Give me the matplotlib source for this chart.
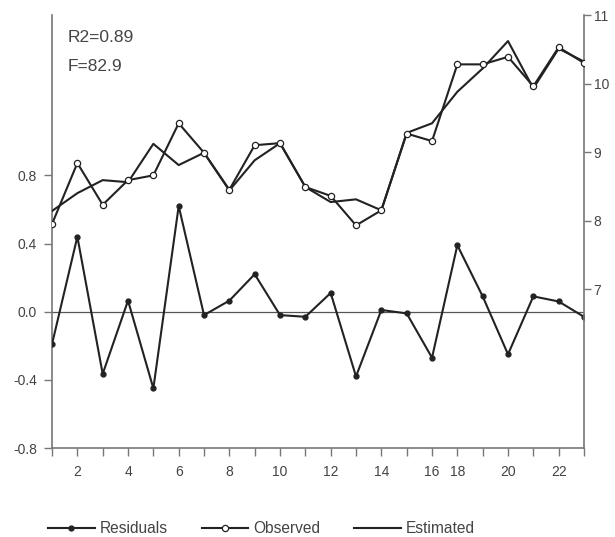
import matplotlib
import matplotlib.pyplot as plt
import numpy as np

matplotlib.use("Agg")

plt.rcParams["font.family"] = ["Liberation Sans", "DejaVu Sans"]

# observation index 17 is missing, so 22 positions carry labels 1..16, 18..23
obs_labels = [1, 2, 3, 4, 5, 6, 7, 8, 9, 10, 11, 12, 13, 14, 15, 16, 18, 19, 20, 21, 22, 23]
shown_labels = [2, 4, 6, 8, 10, 12, 14, 16, 18, 20, 22]

residuals = [-0.19, 0.44, -0.365, 0.065, -0.45, 0.62, -0.02, 0.065, 0.22, -0.02, -0.03,
             0.11, -0.38, 0.01, -0.01, -0.27, 0.39, 0.09, -0.25, 0.09, 0.06, -0.03]
observed = [7.95, 8.84, 8.23, 8.59, 8.66, 9.42, 8.99, 8.45, 9.10, 9.13, 8.49,
            8.36, 7.93, 8.15, 9.27, 9.16, 10.28, 10.28, 10.39, 9.96, 10.53, 10.30]
estimated = [8.14, 8.40, 8.59, 8.56, 9.12, 8.81, 8.99, 8.44, 8.88, 9.13, 8.49,
             8.27, 8.31, 8.15, 9.28, 9.42, 9.88, 10.22, 10.62, 9.93, 10.51, 10.32]

r2_text = "R2=0.89"
f_text = "F=82.9"

INK = "#222222"
AXIS = "#777777"
LABEL = "#444444"

pos = np.arange(1, len(obs_labels) + 1)

fig = plt.figure(figsize=(6.15, 5.37), dpi=100)
ax = fig.add_axes([0.0846, 0.1657, 0.865, 0.8063])
ax2 = ax.twinx()

ax.axhline(0, color="#555555", lw=0.9, zorder=1)
l_res, = ax.plot(pos, residuals, color=INK, lw=1.5, marker="o", ms=3.5,
                 mfc=INK, mec=INK, label="Residuals", zorder=3)
l_obs, = ax2.plot(pos, observed, color=INK, lw=1.5, marker="o", ms=4.5,
                  mfc="white", mec=INK, mew=0.9, label="Observed", zorder=3)
l_est, = ax2.plot(pos, estimated, color=INK, lw=1.5, label="Estimated", zorder=2)

ax.set_xlim(1, len(pos))
ax.set_ylim(-0.8, 1.741)
ax2.set_ylim(4.68, 11.0)

ax.set_yticks([-0.8, -0.4, 0.0, 0.4, 0.8])
ax.set_yticklabels(["-0.8", "-0.4", "0.0", "0.4", "0.8"])
ax2.set_yticks([7, 8, 9, 10, 11])

ax.set_xticks(pos)
ax.set_xticklabels([str(lab) if lab in shown_labels else "" for lab in obs_labels])

for a in (ax, ax2):
    a.spines["top"].set_visible(False)
    for spine in a.spines.values():
        spine.set_color(AXIS)
        spine.set_linewidth(1.2)
ax.spines["right"].set_visible(False)
ax2.spines["left"].set_visible(False)
ax2.spines["bottom"].set_visible(False)

ax.tick_params(axis="both", colors=AXIS, labelcolor=LABEL, labelsize=10,
               length=6, width=1.0, direction="out")
ax.tick_params(axis="y", pad=5)
ax.tick_params(axis="x", pad=6)
ax2.tick_params(axis="y", colors=AXIS, labelcolor=LABEL, labelsize=10,
                length=5, width=1.0, direction="out", pad=2)

ax.text(0.03, 0.965, r2_text, transform=ax.transAxes, fontsize=12.5, color=LABEL, va="top")
ax.text(0.03, 0.898, f_text, transform=ax.transAxes, fontsize=12.5, color=LABEL, va="top")

fig.legend([l_res, l_obs, l_est], ["Residuals", "Observed", "Estimated"],
           loc="lower center", bbox_to_anchor=(0.425, -0.025), ncol=3, frameon=False,
           fontsize=11.2, handlelength=3.0, handletextpad=0.3, columnspacing=2.2,
           labelcolor=LABEL)

fig.savefig("out.png", dpi=100)
